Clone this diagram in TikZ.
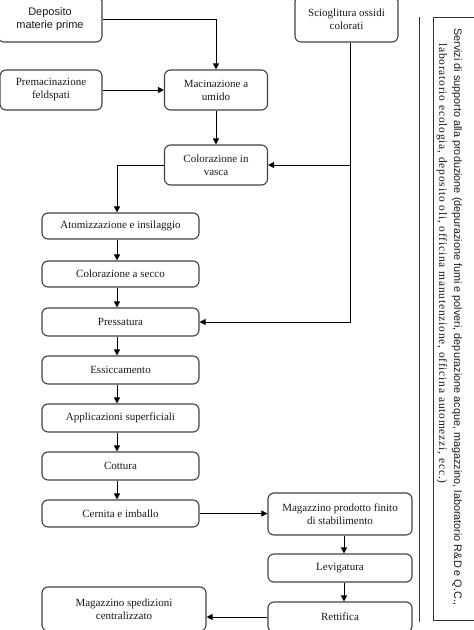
\documentclass[tikz,border=0pt]{standalone}
\usepackage{fontspec}
\setmainfont{Liberation Serif}
\newfontfamily\arialfont{Liberation Sans}
\newfontfamily\spacedserif[LetterSpace=7]{Liberation Serif}
\usetikzlibrary{arrows.meta,calc}
\begin{document}
\begin{tikzpicture}[x=1pt,y=-1pt,
  box/.style={draw=black!75, line width=1.1pt, rounded corners=6pt, align=center, inner sep=1pt,
    font=\fontsize{11}{13}\selectfont, text=black!90},
  conn/.style={draw=black, line width=1pt},
  arr/.style={conn, -{Triangle[length=6pt,width=6pt]}}]
\useasboundingbox (0,0) rectangle (474,630);
% top nodes
\node[box, font=\arialfont\fontsize{11}{13}\selectfont, minimum width=104pt, minimum height=46pt] (dep) at (50,19) {Deposito\\materie prime};
\node[box, minimum width=102pt, minimum height=40pt] (prem) at (51,90) {Premacinazione\\feldspati};
\node[box, minimum width=103pt, minimum height=40pt] (mac) at (216,90) {Macinazione a\\umido};
\node[box, minimum width=103pt, minimum height=46pt] (sci) at (346.5,19) {Scioglitura ossidi\\colorati};
\node[box, minimum width=103pt, minimum height=40pt] (col) at (216,165) {Colorazione in\\vasca};
% column
\node[box, minimum width=157pt, minimum height=26pt] (atom) at (120.5,226) {Atomizzazione e insilaggio};
\node[box, minimum width=157pt, minimum height=26pt] (secco) at (120.5,274) {Colorazione a secco};
\node[box, minimum width=157pt, minimum height=28pt] (press) at (120.5,322) {Pressatura};
\node[box, minimum width=157pt, minimum height=28pt] (ess) at (120.5,370) {Essiccamento};
\node[box, minimum width=157pt, minimum height=28pt] (appl) at (120.5,418) {Applicazioni superficiali};
\node[box, minimum width=157pt, minimum height=28pt] (cott) at (120.5,466) {Cottura};
\node[box, minimum width=157pt, minimum height=27pt] (cern) at (120.5,513.5) {Cernita e imballo};
% right column
\node[box, minimum width=144pt, minimum height=42pt] (mpf) at (340,514) {Magazzino prodotto finito\\di stabilimento};
\node[box, minimum width=144pt, minimum height=28pt] (lev) at (340,568) {Levigatura};
\node[box, minimum width=144pt, minimum height=30pt] (ret) at (340,617) {Rettifica};
\node[box, minimum width=164pt, minimum height=44pt] (msp) at (124,609) {Magazzino spedizioni\\centralizzato};
% helper coordinates
\coordinate (cx) at (117,0);
\coordinate (rx) at (344,0);
\coordinate (sx) at (350,0);
% connectors
\draw[arr] (dep.east) -| (mac.north);
\draw[arr] (prem.east) -- (mac.west);
\draw[arr] (mac.south) -- (col.north);
\draw[arr] (col.west) -| (atom.north -| cx);
\draw[arr] (atom.south -| cx) -- (secco.north -| cx);
\draw[arr] (secco.south -| cx) -- (press.north -| cx);
\draw[arr] (press.south -| cx) -- (ess.north -| cx);
\draw[arr] (ess.south -| cx) -- (appl.north -| cx);
\draw[arr] (appl.south -| cx) -- (cott.north -| cx);
\draw[arr] (cott.south -| cx) -- (cern.north -| cx);
\draw[arr] (cern.east) -- (cern.east -| mpf.west);
\draw[arr] (mpf.south -| rx) -- (lev.north -| rx);
\draw[arr] (lev.south -| rx) -- (ret.north -| rx);
\draw[arr] (ret.west) -- (ret.west -| msp.east);
\coordinate (sb) at (sci.south -| sx);
\coordinate (sj) at (col.east -| sx);
\draw[conn] (sb) -- (sj);
\draw[arr] (sj) -- (col.east);
\draw[arr] (sj) |- (press.east);
% services
\coordinate (vt) at (419,17);
\coordinate (vb) at (419,622);
\draw[line width=1pt, black!80] (vt) -- (vb);
\draw[line width=1pt, black!80] (433,17) rectangle (480,620);
\node[rotate=-90, anchor=west, inner sep=0pt, font=\arialfont\fontsize{10.85}{12}\selectfont, text=black!90] (s1) at (457,28) {Servizi di supporto alla produzione (depurazione fumi e polveri, depurazione acque, magazzino, laboratorio R\&D e Q.C.,};
\node[rotate=-90, anchor=west, inner sep=0pt, font=\spacedserif\fontsize{11.5}{12}\selectfont, text=black!90] (s2) at (442,43) {laboratorio ecologia, deposito oli, officina manutenzione, officina automezzi, ecc.)};
\end{tikzpicture}
\end{document}
